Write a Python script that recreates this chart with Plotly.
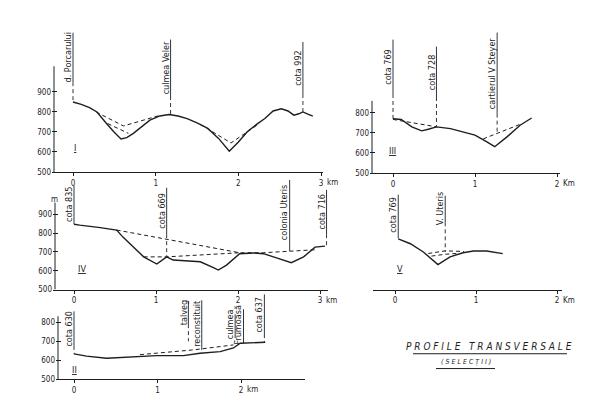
import plotly.graph_objects as go

OFF = 8                      # default page margin of the html body
W, H = 595 - OFF, 419 - OFF  # figure size so that the page fits the window
INK = "#1e1e1e"
FONT = "DejaVu Sans Condensed, DejaVu Sans, sans-serif"

# ---------------- data (km along profile, altitude in m) ----------------
# Profile I
p1_km = [0, 0.1, 0.2, 0.29, 0.4, 0.49, 0.58, 0.65, 0.73, 0.83, 0.93, 1.05, 1.16, 1.27, 1.38,
         1.5, 1.63, 1.76, 1.89, 2.0, 2.11, 2.22, 2.32, 2.42, 2.52, 2.6, 2.67, 2.73, 2.78, 2.84, 2.9]
p1_m = [850, 838, 822, 800, 745, 702, 665, 672, 693, 728, 759, 780, 787, 780, 767,
        745, 718, 668, 604, 650, 702, 738, 767, 805, 816, 805, 784, 791, 800, 789, 779]
d1a_km = [0.28, 0.61, 1.05]
d1a_m = [800, 730, 783]
d1b_km = [0.42, 0.67]
d1b_m = [742, 693]
d1c_km = [1.54, 1.91, 2.24]
d1c_m = [738, 645, 738]

# Profile III
p3_km = [0, 0.1, 0.23, 0.35, 0.43, 0.53, 0.7, 0.86, 1.0, 1.14, 1.24, 1.39, 1.55, 1.69]
p3_m = [770, 767, 730, 710, 718, 730, 721, 705, 689, 656, 631, 680, 738, 774]
d3a_km = [0, 0.53]
d3a_m = [767, 730]
d3b_km = [1.10, 1.27, 1.57]
d3b_m = [670, 697, 746]

# Profile IV
p4_km = [0, 0.07, 0.32, 0.52, 0.6, 0.72, 0.85, 1.01, 1.13, 1.21, 1.54, 1.7, 1.76, 1.86,
         2.02, 2.19, 2.31, 2.47, 2.65, 2.8, 2.94, 3.06]
p4_m = [848, 843, 830, 817, 778, 726, 674, 636, 674, 657, 648, 617, 604, 630,
        691, 695, 691, 669, 643, 674, 726, 731]
d4a_km = [0.52, 2.02, 2.31, 2.65, 2.94]
d4a_m = [817, 696, 696, 703, 712]
d4b_km = [0.85, 1.13, 2.02]
d4b_m = [674, 674, 696]

# Profile V
p5_km = [0.04, 0.19, 0.35, 0.53, 0.68, 0.84, 0.97, 1.13, 1.33]
p5_m = [770, 744, 700, 633, 674, 696, 705, 705, 691]
d5a_km = [0.41, 0.62, 0.85]
d5a_m = [692, 706, 703]
d5b_km = [0.45, 0.62, 0.76]
d5b_m = [678, 688, 692]

# Profile II
p2_km = [0, 0.05, 0.15, 0.39, 0.63, 0.99, 1.31, 1.51, 1.75, 1.91, 1.99, 2.15, 2.29]
p2_m = [634, 629, 622, 611, 617, 625, 625, 637, 646, 665, 690, 691, 695]
d2_km = [0.79, 1.43, 1.91]
d2_m = [630, 655, 681]

# tick values
y_ticks_5 = [500, 600, 700, 800, 900]
y_ticks_4 = [500, 600, 700, 800]
x_ticks_3 = [0, 1, 2, 3]
x_ticks_2 = [0, 1, 2]

# labels: text, km of marked point, text top (m), text bottom (m), end of guide line (m)
lab1 = [("d. Porcarului", 0, 1196, 949, 850),
        ("culmea Veler", 1.18, 1162, 880, 787),
        ("cota 992", 2.78, 1150, 890, 800)]
lab3 = [("cota 769", 0, 1165, 894, 770),
        ("cota 728", 0.53, 1130, 879, 730),
        ("cartierul V Steyer", 1.27, 1200, 796, 700)]
lab4 = [("cota 835", 0, 1053, 858, 848),
        ("cota 669", 1.13, 1042, 795, 674),
        ("colonia Uteris", 2.63, 1095, 726, 700),
        ("cota 716", 3.08, 1031, 795, 731)]
lab5 = [("cota 769", 0.04, 1005, 795, 770),
        ("V. Uteris", 0.62, 1000, 858, 700)]
lab2 = [("cota 630", 0, 857, 676, 634),
        ("talveg", 1.37, 909, 790, 700),
        ("reconstituit", 1.53, 915, 666, 655),
        ("culmea", 1.93, 842, 738, 700),
        ("Frumoasă", 2.03, 868, 702, 690),
        ("cota 637", 2.28, 946, 738, 695)]


def px(x):
    return (x - OFF) / W


def py(y):
    return 1 - (y - OFF) / H


# ---------------- panel geometry (window pixels) ----------------
panels = [
    dict(i=1, km=p1_km, m=p1_m, dashed=[(d1a_km, d1a_m), (d1b_km, d1b_m), (d1c_km, d1c_m)],
         labels=lab1, yt=y_ticks_5, xt=x_ticks_3, unit="km", numeral="I", num_pos=(0.02, 619),
         m_pos=(-0.42, 979),
         g=dict(px0=73, sx=82.7, py0=174, sy=20.25, left=54, right=323, top=26, axis_top=67)),
    dict(i=2, km=p3_km, m=p3_m, dashed=[(d3a_km, d3a_m), (d3b_km, d3b_m)],
         labels=lab3, yt=y_ticks_4, xt=x_ticks_2, unit="Km", numeral="III", num_pos=(-0.01, 608),
         m_pos=(-0.43, 874),
         g=dict(px0=393, sx=82, py0=175, sy=20.3, left=372, right=560, top=26, axis_top=102)),
    dict(i=3, km=p4_km, m=p4_m, dashed=[(d4a_km, d4a_m), (d4b_km, d4b_m)],
         labels=lab4, yt=y_ticks_5, xt=x_ticks_3, unit="km", numeral="IV", num_pos=(0.1, 610),
         m_pos=(-0.24, 978),
         g=dict(px0=74, sx=82, py0=293, sy=19.0, left=55, right=328, top=182, axis_top=205)),
    dict(i=4, km=p5_km, m=p5_m, dashed=[(d5a_km, d5a_m), (d5b_km, d5b_m)],
         labels=lab5, yt=None, xt=x_ticks_2, unit="Km", numeral="V", num_pos=(0.06, 610),
         m_pos=None,
         g=dict(px0=395, sx=81, py0=293, sy=19.0, left=373, right=562, top=182, axis_top=None)),
    dict(i=5, km=p2_km, m=p2_m, dashed=[(d2_km, d2_m)],
         labels=lab2, yt=y_ticks_4, xt=x_ticks_2, unit="km", numeral="II", num_pos=(0.0, 547),
         m_pos=(-0.32, 857),
         g=dict(px0=74, sx=83.5, py0=384, sy=19.3, left=58, right=305, top=296, axis_top=320)),
]

fig = go.Figure()
annotations = []
layout = dict(width=W, height=H, margin=dict(l=0, r=0, t=0, b=0, pad=0),
              paper_bgcolor="white", plot_bgcolor="rgba(0,0,0,0)", showlegend=False,
              font=dict(family=FONT, color=INK, size=8))

for p in panels:
    i = p["i"]
    g = p["g"]
    sfx = "" if i == 1 else str(i)
    xr, yr = "x" + sfx, "y" + sfx
    has_y = p["yt"] is not None
    dleft = g["left"] - 2 if has_y else g["left"]
    x0 = (dleft - g["px0"]) / g["sx"]
    x1 = (g["right"] - g["px0"]) / g["sx"]
    ytop = 500 + (g["py0"] - g["top"]) / g["sy"] * 100
    ax_km = (g["left"] - g["px0"]) / g["sx"]

    layout["xaxis" + sfx] = dict(
        domain=[px(dleft), px(g["right"])], range=[x0, x1], anchor=yr,
        showline=True, linecolor=INK, linewidth=1, showgrid=False, zeroline=False,
        ticks="outside", ticklen=3, tickcolor=INK, tickwidth=1,
        tickvals=p["xt"], ticktext=[str(v) for v in p["xt"]],
        tickfont=dict(size=8, family=FONT, color=INK), fixedrange=True)
    ydict = dict(domain=[py(g["py0"]), py(g["top"])], range=[500, ytop], anchor=xr,
                 showline=False, showgrid=False, zeroline=False, fixedrange=True)
    if has_y:
        ydict.update(ticks="inside", ticklen=5, tickcolor=INK, tickwidth=1,
                     tickvals=p["yt"], ticktext=[str(v) for v in p["yt"]],
                     tickfont=dict(size=8, family=FONT, color=INK))
        axis_top_m = 500 + (g["py0"] - g["axis_top"]) / g["sy"] * 100
        fig.add_trace(go.Scatter(x=[ax_km, ax_km], y=[500, axis_top_m], mode="lines",
                                 line=dict(color=INK, width=1), xaxis=xr, yaxis=yr,
                                 hoverinfo="skip"))
    else:
        ydict.update(showticklabels=False, ticks="")
    layout["yaxis" + sfx] = ydict

    # profile
    fig.add_trace(go.Scatter(x=p["km"], y=p["m"], mode="lines",
                             line=dict(color=INK, width=1.4), xaxis=xr, yaxis=yr,
                             hoverinfo="skip"))
    for dk, dm in p["dashed"]:
        fig.add_trace(go.Scatter(x=dk, y=dm, mode="lines",
                                 line=dict(color=INK, width=1, dash="4px,3px"),
                                 xaxis=xr, yaxis=yr, hoverinfo="skip"))
    # labels
    for text, lk, tt, tb, te in p["labels"]:
        fig.add_trace(go.Scatter(x=[lk, lk], y=[tt, tb], mode="lines",
                                 line=dict(color=INK, width=0.9), xaxis=xr, yaxis=yr,
                                 hoverinfo="skip"))
        fig.add_trace(go.Scatter(x=[lk, lk], y=[tb, te], mode="lines",
                                 line=dict(color=INK, width=0.9, dash="4px,3px"),
                                 xaxis=xr, yaxis=yr, hoverinfo="skip"))
        annotations.append(dict(x=lk, y=(tt + tb) / 2, xref=xr, yref=yr, text=text,
                                textangle=-90, showarrow=False, xanchor="center",
                                yanchor="middle", xshift=-5,
                                font=dict(size=9, family=FONT, color=INK)))
    # numeral
    annotations.append(dict(x=p["num_pos"][0], y=p["num_pos"][1], xref=xr, yref=yr,
                            text="<u>" + p["numeral"] + "</u>", showarrow=False,
                            xanchor="center", yanchor="middle",
                            font=dict(size=9, family=FONT, color=INK)))
    # unit m
    if p["m_pos"]:
        annotations.append(dict(x=p["m_pos"][0], y=p["m_pos"][1], xref=xr, yref=yr, text="m",
                                showarrow=False, xanchor="center", yanchor="middle",
                                font=dict(size=8, family=FONT, color=INK)))
    # km unit after last tick
    annotations.append(dict(x=p["xt"][-1], y=500, xref=xr, yref=yr, text=p["unit"],
                            showarrow=False, xanchor="left", yanchor="top", xshift=4,
                            yshift=-4, font=dict(size=8, family=FONT, color=INK)))

# title
annotations.append(dict(x=px(489), y=py(351), xref="paper", yref="paper",
                        xanchor="center", yanchor="middle",
                        text="<i>P R O F I L E   T R A N S V E R S A L E</i>", showarrow=False,
                        font=dict(size=10, family=FONT, color=INK)))
annotations.append(dict(x=px(466), y=py(366), xref="paper", yref="paper",
                        xanchor="center", yanchor="middle",
                        text="<i>( S E L E C Ț I I )</i>", showarrow=False,
                        font=dict(size=7, family=FONT, color=INK)))
layout["shapes"] = [
    dict(type="line", xref="paper", yref="paper", x0=px(413), x1=px(567),
         y0=py(358), y1=py(358), line=dict(color=INK, width=1)),
    dict(type="line", xref="paper", yref="paper", x0=px(436), x1=px(495),
         y0=py(373), y1=py(373), line=dict(color=INK, width=1)),
]
layout["annotations"] = annotations
fig.update_layout(**layout)
fig.update_traces(showlegend=False)
fig.write_html("out.html")
